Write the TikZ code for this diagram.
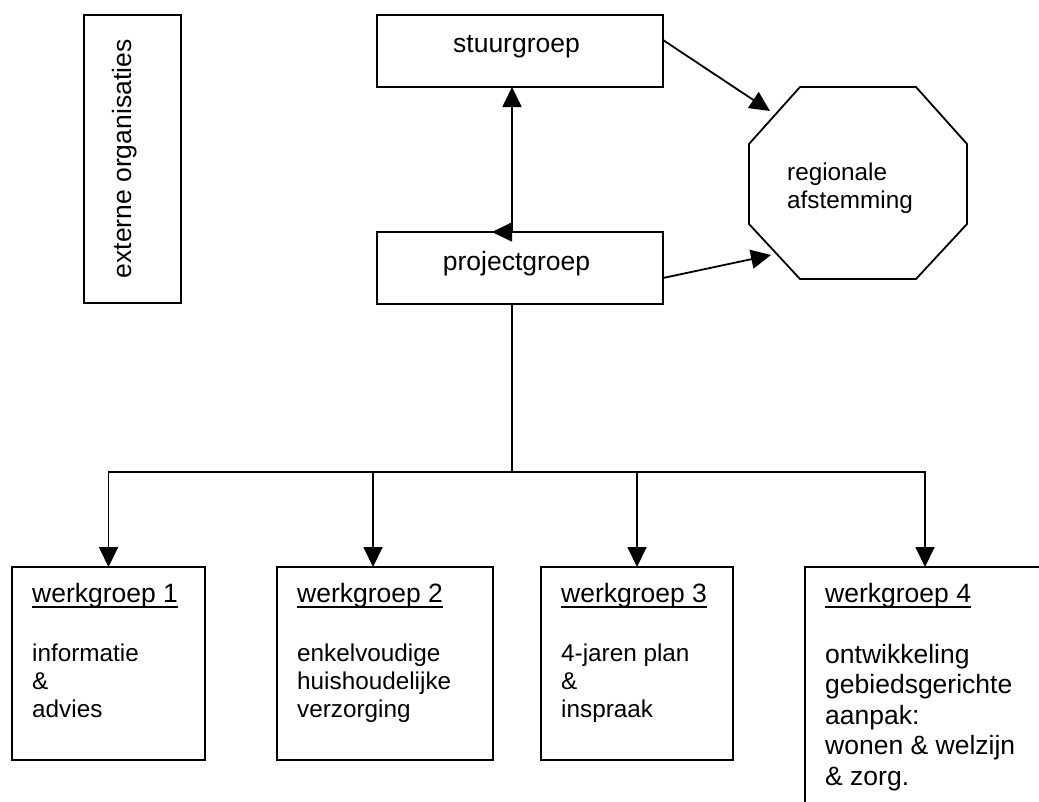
\documentclass[tikz,border=0pt]{standalone}
\usepackage{fontspec}
\setmainfont{Liberation Sans}
\usetikzlibrary{arrows.meta,positioning}

\newcommand\wgul[1]{\leavevmode\setbox0\hbox{#1}\rlap{\rule[-6.3pt]{\wd0}{2pt}}\box0}

\begin{document}
\begin{tikzpicture}[
  x=1pt, y=-1pt,
  box/.style={draw, line width=1.8pt, inner sep=0pt, outer sep=0pt},
  txt/.style={inner sep=0pt, align=left, font=\fontsize{26.5}{30.5}\selectfont},
  small/.style={txt, font=\fontsize{24.3}{27.9}\selectfont},
  line/.style={line width=1.8pt, line join=miter},
  arr/.style={-{Triangle[length=20pt, width=19pt]}, line width=1.8pt},
  arrs/.style={{Triangle[length=20pt, width=19pt]}-{Triangle[length=20pt, width=19pt]}, line width=1.8pt}
]
\useasboundingbox (0,0) rectangle (1039,801);
\clip (0,0) rectangle (1039,801);
\fill[white] (0,0) rectangle (1039,801);

% boxes
\node[box, minimum width=97pt, minimum height=288pt] (ext) at (132.5,159) {};
\node[box, minimum width=286pt, minimum height=72pt] (stuur) at (520,51) {};
\node[box, minimum width=286pt, minimum height=72pt] (proj) at (520,268) {};
\node[box, minimum width=193pt, minimum height=193pt] (wg1) at (108.5,663.5) {};
\node[box, minimum width=216pt, minimum height=193pt] (wg2) at (385,663.5) {};
\node[box, minimum width=192pt, minimum height=193pt] (wg3) at (637,663.5) {};
\node[box, minimum width=240pt, minimum height=290pt] (wg4) at (925,712) {};

% octagon
\coordinate (octin1) at (770,111);
\coordinate (octin2) at (771,255);
\draw[line] (800,87) -- (916,87) -- (967,144) -- (967,224) -- (916,279)
  -- (800,279) -- (749,224) -- (749,144) -- cycle;
\node[small, anchor=north west] (regio) at (787,163) {regionale\\afstemming};

% texts
\node[txt, rotate=90] (exttxt) at (125,159) {externe organisaties};
\node[txt, anchor=base] (stuurtxt) at ([shift={(-3.5,1)}]stuur.center) {stuurgroep};
\node[txt, anchor=base] (projtxt) at ([shift={(-3.5,2)}]proj.center) {projectgroep};

\node[txt, anchor=base west] (wg1head) at ([shift={(20,35)}]wg1.north west) {\wgul{werkgroep 1}};
\node[txt, anchor=base west] (wg2head) at ([shift={(20,35)}]wg2.north west) {\wgul{werkgroep 2}};
\node[txt, anchor=base west] (wg3head) at ([shift={(20,35)}]wg3.north west) {\wgul{werkgroep 3}};
\node[txt, anchor=base west] (wg4head) at ([shift={(20,35)}]wg4.north west) {\wgul{werkgroep 4}};

\node[small, below right=77pt and 20pt of wg1.north west] (wg1body) {informatie\\\&\\advies};
\node[small, below right=77pt and 20pt of wg2.north west] (wg2body) {enkelvoudige\\huishoudelijke\\verzorging};
\node[small, below right=77pt and 20pt of wg3.north west] (wg3body) {4-jaren plan\\\&\\inspraak};
\node[txt, below right=77pt and 20pt of wg4.north west] (wg4body) {ontwikkeling\\gebiedsgerichte\\aanpak:\\wonen \& welzijn\\\& zorg.};

% connectors
\coordinate (bus) at (512,472);
\coordinate (wg2in) at ([xshift=-12pt]wg2.north);
\draw[arr] ([yshift=11pt]stuur.east) -- (octin1);
\draw[arr] ([yshift=-10pt]proj.east) -- (octin2);
\draw[arr] ([xshift=-8pt]proj.north) -- ([xshift=-8pt]stuur.south);
\draw[arr] ([xshift=-8pt]proj.north) -- ([xshift=-28pt]proj.north);
\draw[line] ([xshift=-8pt]proj.south) -- (bus);
\draw[arrs] (wg1.north) |- (bus) -| (wg4.north);
\draw[arr] (bus -| wg2in) -- (wg2in);
\draw[arr] (bus -| wg3.north) -- (wg3.north);
\end{tikzpicture}
\end{document}
